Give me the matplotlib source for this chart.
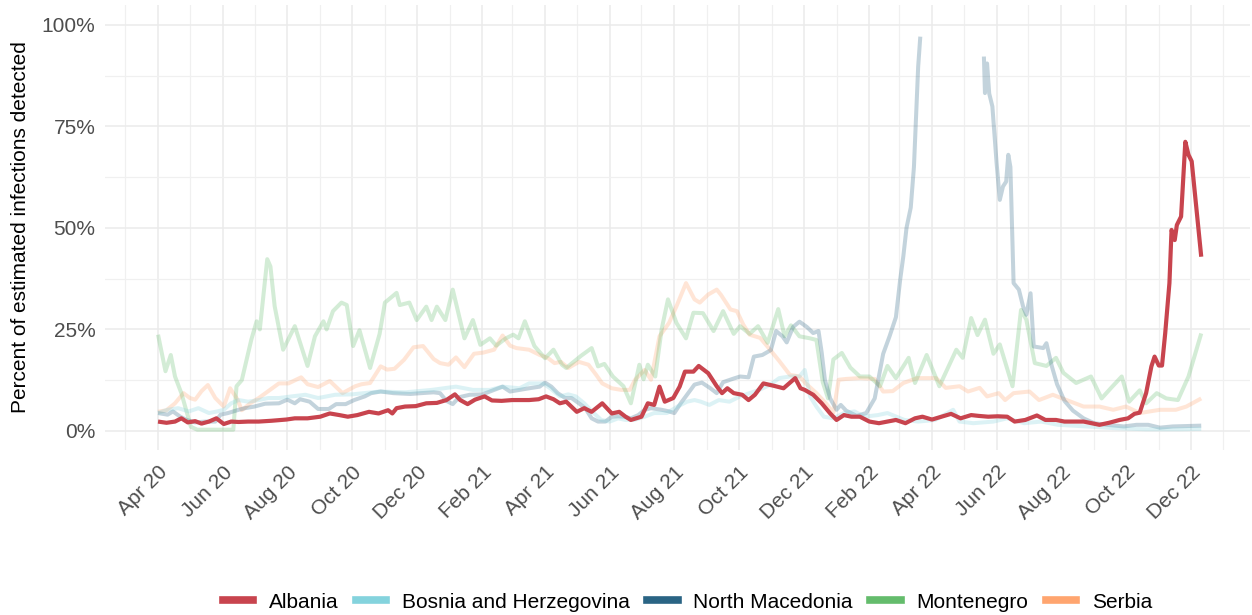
import numpy as np
import pandas as pd
import matplotlib
matplotlib.use("Agg")
import matplotlib.pyplot as plt
import matplotlib.dates as mdates
from matplotlib.lines import Line2D
from matplotlib.ticker import FixedLocator, FuncFormatter

plt.rcParams['font.family'] = ['Liberation Sans', 'DejaVu Sans']

# values are percent of estimated infections detected
albania_dates = [
    "2020-04-01", "2020-04-09", "2020-04-17", "2020-04-23", "2020-04-29", "2020-05-06", "2020-05-12",
    "2020-05-19", "2020-05-26", "2020-06-02", "2020-06-09", "2020-06-16", "2020-06-25", "2020-07-05",
    "2020-07-17", "2020-07-31", "2020-08-08", "2020-08-20", "2020-09-01", "2020-09-10", "2020-09-19",
    "2020-09-27", "2020-10-06", "2020-10-17", "2020-10-26", "2020-11-04", "2020-11-08", "2020-11-12",
    "2020-11-20", "2020-11-30", "2020-12-10", "2020-12-20", "2020-12-29", "2021-01-06", "2021-01-11",
    "2021-01-18", "2021-01-25", "2021-02-03", "2021-02-10", "2021-02-19", "2021-03-01", "2021-03-17",
    "2021-03-26", "2021-04-02", "2021-04-09", "2021-04-15", "2021-04-21", "2021-05-01", "2021-05-08",
    "2021-05-15", "2021-05-25", "2021-06-03", "2021-06-10", "2021-06-16", "2021-06-21", "2021-07-01",
    "2021-07-07", "2021-07-13", "2021-07-18", "2021-07-23", "2021-07-31", "2021-08-06", "2021-08-11",
    "2021-08-19", "2021-08-24", "2021-09-02", "2021-09-10", "2021-09-15", "2021-09-20", "2021-09-26",
    "2021-10-04", "2021-10-10", "2021-10-16", "2021-10-24", "2021-11-03", "2021-11-12", "2021-11-23",
    "2021-11-28", "2021-12-02", "2021-12-10", "2021-12-18", "2021-12-26", "2022-01-01", "2022-01-08",
    "2022-01-15", "2022-01-23", "2022-02-01", "2022-02-10", "2022-02-18", "2022-02-26", "2022-03-07",
    "2022-03-16", "2022-03-23", "2022-04-01", "2022-04-10", "2022-04-19", "2022-04-28", "2022-05-08",
    "2022-05-15", "2022-05-24", "2022-06-02", "2022-06-11", "2022-06-18", "2022-06-28", "2022-07-09",
    "2022-07-17", "2022-07-27", "2022-08-04", "2022-08-22", "2022-09-06", "2022-09-15", "2022-09-25",
    "2022-10-03", "2022-10-09", "2022-10-14", "2022-10-20", "2022-10-25", "2022-10-28", "2022-11-01",
    "2022-11-04", "2022-11-07", "2022-11-11", "2022-11-13", "2022-11-16", "2022-11-18", "2022-11-22",
    "2022-11-26", "2022-11-29", "2022-12-02", "2022-12-11"]
albania_vals = [
    2.3, 2.0, 2.3, 3.1, 2.1, 2.4, 1.8, 2.3, 3.1, 1.7, 2.3, 2.2, 2.3, 2.3, 2.5, 2.8, 3.1, 3.1, 3.5,
    4.3, 3.9, 3.5, 3.9, 4.7, 4.3, 5.1, 4.3, 5.6, 6.0, 6.1, 6.8, 6.9, 7.6, 9.0, 7.6, 6.6, 7.7, 8.5,
    7.5, 7.4, 7.6, 7.6, 7.8, 8.5, 7.8, 6.8, 7.2, 4.7, 5.6, 4.7, 6.8, 4.3, 4.7, 3.5, 2.7, 3.5, 6.8,
    6.4, 10.9, 7.2, 8.1, 10.9, 14.6, 14.6, 16.0, 14.2, 11.0, 9.3, 10.5, 9.3, 8.9, 7.6, 8.9, 11.7,
    11.1, 10.5, 13.0, 10.5, 10.1, 8.9, 6.8, 4.3, 2.7, 3.9, 3.5, 3.5, 2.3, 1.9, 2.3, 2.7, 1.9, 3.1,
    3.5, 2.8, 3.5, 4.2, 3.1, 3.9, 3.7, 3.5, 3.6, 3.5, 2.3, 2.7, 3.8, 2.7, 2.7, 2.3, 2.3, 1.5, 2.0,
    2.7, 3.1, 4.2, 4.5, 9.3, 15.9, 18.3, 16.1, 16.1, 24.0, 36.4, 49.5, 47.0, 50.7, 52.8, 71.2, 68.0,
    66.4, 42.9]

bosnia_dates = [
    "2020-04-01", "2020-04-10", "2020-04-20", "2020-04-30", "2020-05-09", "2020-05-19", "2020-05-27",
    "2020-06-02", "2020-06-09", "2020-06-16", "2020-06-25", "2020-07-05", "2020-07-14", "2020-07-24",
    "2020-08-05", "2020-08-18", "2020-08-30", "2020-09-15", "2020-10-01", "2020-10-27", "2020-11-20",
    "2020-12-15", "2021-01-07", "2021-01-23", "2021-02-08", "2021-02-20", "2021-03-08", "2021-03-17",
    "2021-03-30", "2021-04-06", "2021-04-15", "2021-04-23", "2021-04-30", "2021-05-08", "2021-05-17",
    "2021-05-24", "2021-06-01", "2021-06-09", "2021-06-16", "2021-06-24", "2021-07-04", "2021-07-13",
    "2021-07-25", "2021-08-04", "2021-08-13", "2021-08-20", "2021-08-26", "2021-09-03", "2021-09-12",
    "2021-09-22", "2021-10-02", "2021-10-11", "2021-10-20", "2021-10-30", "2021-11-08", "2021-11-18",
    "2021-11-27", "2021-12-02", "2021-12-07", "2021-12-13", "2021-12-20", "2021-12-29", "2022-01-08",
    "2022-01-18", "2022-01-27", "2022-02-09", "2022-02-18", "2022-03-06", "2022-03-19", "2022-04-04",
    "2022-04-21", "2022-04-27", "2022-05-10", "2022-05-29", "2022-06-11", "2022-06-27", "2022-07-13",
    "2022-07-29", "2022-08-25", "2022-09-19", "2022-10-20", "2022-11-20", "2022-12-11"]
bosnia_vals = [
    4.4, 5.2, 5.6, 4.8, 5.6, 4.4, 4.8, 5.2, 6.8, 7.6, 7.2, 7.6, 8.1, 8.1, 8.5, 8.9, 8.1, 8.9, 9.0,
    9.7, 9.5, 10.1, 10.9, 10.1, 10.1, 10.9, 10.5, 11.7, 11.7, 10.5, 8.5, 9.0, 8.5, 6.8, 4.4, 2.7,
    2.3, 3.1, 2.7, 2.7, 3.5, 4.4, 4.4, 6.0, 7.2, 7.6, 7.2, 6.4, 7.6, 7.2, 8.5, 9.3, 10.1, 11.3, 13.0,
    13.4, 13.4, 15.0, 8.5, 6.0, 3.5, 3.1, 4.4, 4.8, 3.5, 3.9, 4.4, 2.7, 2.3, 2.7, 5.2, 2.3, 1.9, 2.3,
    3.1, 1.9, 2.3, 1.5, 1.1, 0.7, 0.4, 0.4, 0.5]

macedonia_dates = [
    "2020-04-01", "2020-04-10", "2020-04-15", "2020-04-22", "2020-04-28", "2020-05-06", "2020-05-16",
    "2020-05-25", "2020-05-30", "2020-06-06", "2020-06-16", "2020-06-22", "2020-07-01", "2020-07-11",
    "2020-07-24", "2020-08-01", "2020-08-08", "2020-08-13", "2020-08-22", "2020-08-30", "2020-09-09",
    "2020-09-16", "2020-09-25", "2020-10-03", "2020-10-13", "2020-10-19", "2020-10-28", "2020-11-09",
    "2020-11-25", "2020-12-05", "2020-12-17", "2020-12-23", "2020-12-29", "2021-01-04", "2021-01-10",
    "2021-01-20", "2021-02-01", "2021-02-11", "2021-02-20", "2021-02-27", "2021-03-08", "2021-03-17",
    "2021-03-27", "2021-04-01", "2021-04-07", "2021-04-13", "2021-04-20", "2021-04-26", "2021-05-03",
    "2021-05-09", "2021-05-15", "2021-05-21", "2021-05-28", "2021-06-03", "2021-06-09", "2021-06-15",
    "2021-06-21", "2021-06-28", "2021-07-04", "2021-07-10", "2021-07-20", "2021-07-27", "2021-08-01",
    "2021-08-07", "2021-08-14", "2021-08-20", "2021-08-27", "2021-09-04", "2021-09-10", "2021-09-16",
    "2021-09-26", "2021-10-02", "2021-10-10", "2021-10-15", "2021-10-23", "2021-10-31", "2021-11-05",
    "2021-11-11", "2021-11-15", "2021-11-21", "2021-11-27", "2021-12-04", "2021-12-10", "2021-12-15",
    "2021-12-18", "2021-12-21", "2021-12-26", "2022-01-01", "2022-01-05", "2022-01-10", "2022-01-20",
    "2022-01-29", "2022-02-06", "2022-02-14", "2022-02-20", "2022-02-26", "2022-03-02", "2022-03-05",
    "2022-03-08", "2022-03-12", "2022-03-15", "2022-03-17", "2022-03-19", "2022-03-21", "2022-03-22",
    "2022-05-19", "2022-05-20", "2022-05-21", "2022-05-23", "2022-05-25", "2022-05-28", "2022-06-01",
    "2022-06-04", "2022-06-07", "2022-06-10", "2022-06-12", "2022-06-14", "2022-06-17", "2022-06-22",
    "2022-06-26", "2022-06-29", "2022-07-03", "2022-07-06", "2022-07-15", "2022-07-18", "2022-07-23",
    "2022-07-28", "2022-08-04", "2022-08-12", "2022-08-22", "2022-09-01", "2022-09-13", "2022-09-29",
    "2022-10-11", "2022-10-22", "2022-11-02", "2022-11-14", "2022-12-11"]
# values above 100% fall outside the scale and are left out (gap in Mar-May 2022)
macedonia_vals = [
    4.4, 4.0, 4.8, 3.5, 2.7, 2.1, 2.3, 2.3, 4.0, 4.4, 5.2, 5.6, 6.0, 6.7, 6.8, 7.7, 6.8, 7.8, 7.2,
    5.4, 5.4, 6.6, 6.6, 7.6, 8.5, 9.3, 9.7, 9.3, 9.1, 9.3, 9.5, 9.3, 7.4, 6.6, 8.3, 8.9, 9.0, 10.0,
    10.9, 9.7, 10.1, 10.5, 10.9, 11.9, 10.9, 9.3, 8.1, 8.1, 6.8, 5.6, 3.1, 2.3, 2.3, 3.5, 3.6, 3.5,
    3.1, 3.9, 5.2, 5.6, 5.2, 4.8, 4.4, 6.8, 9.3, 11.4, 11.9, 10.5, 9.3, 12.0, 12.9, 13.4, 13.2, 18.3,
    18.7, 19.9, 24.6, 23.3, 21.8, 25.6, 26.9, 25.6, 24.1, 24.6, 19.3, 12.6, 8.0, 5.2, 6.4, 5.0, 3.7,
    4.4, 8.0, 19.0, 23.3, 28.0, 37.2, 43.0, 50.0, 55.0, 65.0, 77.4, 89.7, 97.1, np.nan,
    np.nan, 92.2, 83.2, 90.5, 83.1, 79.9, 65.9, 56.9, 60.2, 61.4, 68.0, 65.0, 36.4, 34.8, 30.6, 28.6,
    33.9, 20.8, 20.4, 21.6, 16.0, 11.5, 7.4, 5.0, 3.1, 1.9, 1.5, 1.1, 1.5, 1.5, 0.8, 1.1, 1.3]

montenegro_dates = [
    "2020-04-01", "2020-04-08", "2020-04-13", "2020-04-17", "2020-04-23", "2020-05-02", "2020-05-08",
    "2020-06-11", "2020-06-14", "2020-06-19", "2020-06-28", "2020-07-03", "2020-07-06", "2020-07-13",
    "2020-07-16", "2020-07-20", "2020-07-28", "2020-08-08", "2020-08-20", "2020-08-27", "2020-09-04",
    "2020-09-07", "2020-09-13", "2020-09-21", "2020-09-26", "2020-10-02", "2020-10-08", "2020-10-18",
    "2020-10-27", "2020-11-01", "2020-11-12", "2020-11-15", "2020-11-24", "2020-12-01", "2020-12-10",
    "2020-12-15", "2020-12-20", "2020-12-28", "2021-01-04", "2021-01-15", "2021-01-23", "2021-01-30",
    "2021-02-08", "2021-02-14", "2021-02-23", "2021-03-02", "2021-03-07", "2021-03-13", "2021-03-22",
    "2021-04-01", "2021-04-09", "2021-04-17", "2021-04-21", "2021-05-05", "2021-05-15", "2021-05-21",
    "2021-05-27", "2021-06-04", "2021-06-14", "2021-06-21", "2021-06-29", "2021-07-03", "2021-07-07",
    "2021-07-14", "2021-07-20", "2021-07-26", "2021-08-03", "2021-08-12", "2021-08-19", "2021-08-28",
    "2021-09-07", "2021-09-16", "2021-09-26", "2021-10-02", "2021-10-11", "2021-10-19", "2021-10-28",
    "2021-11-07", "2021-11-13", "2021-11-19", "2021-11-27", "2021-12-07", "2021-12-13", "2021-12-19",
    "2021-12-24", "2021-12-29", "2022-01-06", "2022-01-14", "2022-01-23", "2022-02-01", "2022-02-11",
    "2022-02-18", "2022-02-26", "2022-03-10", "2022-03-16", "2022-03-27", "2022-04-08", "2022-04-24",
    "2022-04-30", "2022-05-08", "2022-05-14", "2022-05-21", "2022-05-29", "2022-06-04", "2022-06-16",
    "2022-06-24", "2022-06-29", "2022-07-07", "2022-07-18", "2022-07-27", "2022-08-03", "2022-08-15",
    "2022-08-29", "2022-09-08", "2022-09-17", "2022-09-27", "2022-10-04", "2022-10-14", "2022-10-20",
    "2022-10-30", "2022-11-08", "2022-11-19", "2022-11-29", "2022-12-11"]
montenegro_vals = [
    23.7, 14.7, 18.7, 13.4, 9.3, 1.0, 0.3, 0.3, 11.0, 12.5, 22.5, 27.0, 25.0, 42.3, 40.5, 30.7, 20.0,
    25.8, 16.0, 23.3, 27.0, 25.0, 29.5, 31.6, 31.0, 20.9, 24.8, 15.5, 23.9, 31.6, 34.0, 31.0, 31.6,
    27.3, 30.6, 27.3, 30.6, 27.3, 34.8, 22.8, 27.3, 21.2, 22.8, 21.0, 22.8, 23.7, 22.8, 27.0, 20.9,
    17.9, 20.0, 16.3, 15.5, 18.5, 20.4, 15.9, 16.5, 13.4, 11.0, 6.8, 16.3, 12.7, 16.3, 13.4, 25.0,
    32.4, 26.6, 22.8, 29.1, 29.0, 24.6, 29.5, 23.9, 25.8, 23.9, 25.8, 21.7, 30.0, 23.3, 26.0, 23.3,
    22.8, 22.4, 12.0, 8.0, 17.6, 19.2, 15.6, 13.4, 13.4, 11.0, 16.0, 13.0, 18.0, 11.8, 18.7, 11.0,
    20.0, 18.0, 27.8, 23.6, 27.4, 19.0, 21.3, 11.0, 29.8, 27.4, 16.7, 16.0, 18.0, 14.3, 11.8, 13.4,
    8.0, 10.6, 13.4, 7.2, 10.0, 6.8, 9.3, 8.0, 7.6, 13.4, 24.0]

serbia_dates = [
    "2020-04-01", "2020-04-09", "2020-04-17", "2020-04-25", "2020-05-01", "2020-05-06", "2020-05-12",
    "2020-05-18", "2020-05-25", "2020-06-02", "2020-06-08", "2020-06-15", "2020-06-19", "2020-06-27",
    "2020-07-05", "2020-07-14", "2020-07-24", "2020-08-02", "2020-08-14", "2020-08-20", "2020-08-30",
    "2020-09-10", "2020-09-22", "2020-10-04", "2020-10-10", "2020-10-18", "2020-10-28", "2020-11-03",
    "2020-11-10", "2020-11-19", "2020-11-28", "2020-12-07", "2020-12-17", "2020-12-23", "2020-12-31",
    "2021-01-07", "2021-01-15", "2021-01-24", "2021-02-02", "2021-02-12", "2021-02-20", "2021-02-27",
    "2021-03-05", "2021-03-17", "2021-03-27", "2021-04-04", "2021-04-10", "2021-04-16", "2021-04-23",
    "2021-05-03", "2021-05-12", "2021-05-19", "2021-05-25", "2021-06-03", "2021-06-12", "2021-06-20",
    "2021-06-25", "2021-07-04", "2021-07-10", "2021-07-18", "2021-07-27", "2021-08-03", "2021-08-12",
    "2021-08-20", "2021-08-25", "2021-09-02", "2021-09-10", "2021-09-14", "2021-09-23", "2021-09-29",
    "2021-10-05", "2021-10-11", "2021-10-21", "2021-10-30", "2021-11-08", "2021-11-18", "2021-11-27",
    "2021-12-03", "2021-12-13", "2021-12-22", "2021-12-29", "2022-01-03", "2022-01-10", "2022-01-23",
    "2022-02-06", "2022-02-14", "2022-02-23", "2022-03-05", "2022-03-18", "2022-04-05", "2022-04-14",
    "2022-04-27", "2022-05-05", "2022-05-16", "2022-05-23", "2022-06-03", "2022-06-09", "2022-06-17",
    "2022-07-02", "2022-07-11", "2022-07-24", "2022-08-06", "2022-08-22", "2022-09-06", "2022-09-19",
    "2022-10-01", "2022-10-14", "2022-11-02", "2022-11-17", "2022-11-27", "2022-12-11"]
serbia_vals = [
    4.7, 5.1, 6.8, 9.3, 8.1, 7.7, 9.8, 11.3, 8.1, 6.0, 10.5, 7.7, 5.1, 6.8, 8.1, 9.8, 11.7, 11.7,
    13.2, 11.5, 10.8, 12.3, 9.3, 11.0, 11.5, 11.8, 15.9, 15.1, 15.3, 17.5, 20.6, 20.9, 17.7, 16.7,
    16.3, 18.1, 15.7, 19.0, 19.3, 20.0, 23.5, 21.0, 20.4, 20.0, 18.7, 17.9, 16.7, 17.0, 15.5, 17.0,
    16.3, 13.9, 11.7, 10.5, 10.1, 10.1, 12.6, 15.0, 12.6, 23.3, 26.6, 30.7, 36.4, 32.4, 31.6, 33.6,
    34.8, 33.5, 29.9, 29.5, 26.2, 23.7, 22.9, 20.1, 17.2, 13.8, 13.4, 11.7, 9.3, 6.8, 4.5, 12.6,
    12.8, 13.0, 12.8, 9.7, 9.8, 11.8, 13.0, 13.0, 10.6, 11.0, 9.7, 10.6, 8.5, 9.3, 7.6, 9.3, 9.7,
    7.6, 8.9, 7.6, 6.0, 6.0, 5.2, 6.0, 4.4, 5.2, 5.2, 6.0, 8.0]

countries = ["Albania", "Bosnia and Herzegovina", "North Macedonia", "Montenegro", "Serbia"]
colors = ["#C8444E", "#84D3DD", "#2A6484", "#64BC6C", "#FFA56F"]
y_ticks = [0, 25, 50, 75, 100]

data = {
    "Albania": (albania_dates, albania_vals),
    "Bosnia and Herzegovina": (bosnia_dates, bosnia_vals),
    "North Macedonia": (macedonia_dates, macedonia_vals),
    "Montenegro": (montenegro_dates, montenegro_vals),
    "Serbia": (serbia_dates, serbia_vals),
}

fig = plt.figure(figsize=(12.52, 6.15), dpi=100)
ax = fig.add_axes([0.0839, 0.2683, 0.9145, 0.7236])

# faded countries first, highlighted country on top
for name, col in zip(countries[::-1], colors[::-1]):
    d, v = data[name]
    if name == "Albania":
        ax.plot(pd.to_datetime(d), v, color=col, lw=3.0, alpha=1.0, zorder=5,
                solid_capstyle="butt")
    else:
        ax.plot(pd.to_datetime(d), v, color=col, lw=2.9, alpha=0.28, zorder=3,
                solid_capstyle="butt")

ax.set_xlim(pd.Timestamp("2020-02-11"), pd.Timestamp("2023-01-26"))
ax.set_ylim(-4.7, 104.9)

ax.xaxis.set_major_locator(mdates.MonthLocator(bymonth=[2, 4, 6, 8, 10, 12]))
ax.xaxis.set_minor_locator(mdates.MonthLocator(bymonth=[1, 3, 5, 7, 9, 11]))
ax.xaxis.set_major_formatter(mdates.DateFormatter("%b %y"))
ax.yaxis.set_major_locator(FixedLocator(y_ticks))
ax.yaxis.set_minor_locator(FixedLocator([12.5, 37.5, 62.5, 87.5]))
ax.yaxis.set_major_formatter(FuncFormatter(lambda v, p: f"{v:.0f}%"))

# drop the Feb 20 label that falls outside the data
ticks = ax.get_xticks()

ax.grid(True, which="major", color="#EBEBEB", lw=1.1, zorder=0)
ax.grid(True, which="minor", color="#F0F0F0", lw=0.9, zorder=0)
ax.set_axisbelow(True)
for s in ax.spines.values():
    s.set_visible(False)
ax.tick_params(which="both", length=0)
ax.tick_params(axis="y", labelsize=15, labelcolor="#4D4D4D", pad=7)
ax.tick_params(axis="x", labelsize=15, labelcolor="#4D4D4D", pad=9)
for lab in ax.get_xticklabels():
    lab.set_rotation(45)
    lab.set_ha("right")
    lab.set_va("top")
    lab.set_rotation_mode("anchor")

fig.canvas.draw()
for lab, t in zip(ax.get_xticklabels(), ax.get_xticks()):
    if mdates.num2date(t).date() < pd.Timestamp("2020-04-01").date():
        lab.set_visible(False)

fig.text(0.016, 0.63, "Percent of estimated infections detected", rotation=90,
         ha="center", va="center", fontsize=15, color="black")

handles = [Line2D([0], [0], color=c, lw=5.5) for c in colors]
fig.legend(handles, countries, loc="center", bbox_to_anchor=(0.549, 1 - 602 / 615),
           ncol=5, frameon=False, fontsize=15, handlelength=1.45, handletextpad=0.75,
           columnspacing=0.85)

fig.savefig("out.png", dpi=100)
